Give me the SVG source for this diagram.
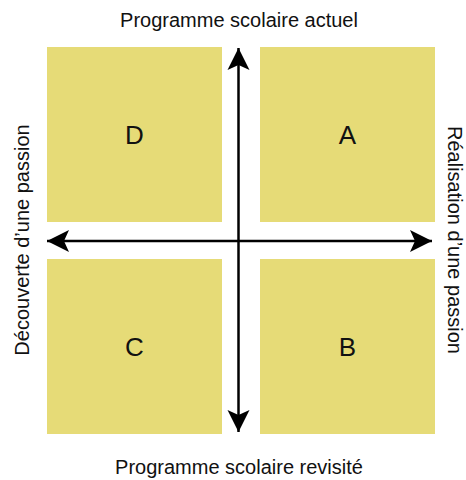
<svg xmlns="http://www.w3.org/2000/svg" width="466" height="480" viewBox="0 0 466 480">
<style>
.q{fill:#E6DB77}
.t{font-family:"Liberation Sans",Arial,sans-serif;font-size:20px;fill:#111;text-anchor:middle}
.l{font-family:"Liberation Sans",Arial,sans-serif;font-size:26px;fill:#111;text-anchor:middle}
.ax{stroke:#000;stroke-width:2.5;fill:none}
</style>
<defs>
<marker id="ah" viewBox="0 0 24 24" refX="22" refY="12" markerWidth="24" markerHeight="24" markerUnits="userSpaceOnUse" orient="auto-start-reverse">
<path d="M22,12 L0,1 L5,12 L0,23 Z" fill="#000"/>
</marker>
</defs>
<rect width="466" height="480" fill="#fff"/>
<g id="D"><rect class="q" x="47" y="47" width="175" height="175"/><text class="l" x="134.5" y="144">D</text></g>
<g id="A"><rect class="q" x="260" y="47" width="175" height="175"/><text class="l" x="347.5" y="144">A</text></g>
<g id="C"><rect class="q" x="47" y="259" width="175" height="175"/><text class="l" x="134.5" y="356">C</text></g>
<g id="B"><rect class="q" x="260" y="259" width="175" height="175"/><text class="l" x="347.5" y="356">B</text></g>
<g id="connectors">
<line class="ax" x1="238.5" y1="432" x2="238.5" y2="48" marker-start="url(#ah)" marker-end="url(#ah)"/>
<line class="ax" x1="47" y1="241" x2="432" y2="241" marker-start="url(#ah)" marker-end="url(#ah)"/>
</g>
<g id="labels">
<text class="t" x="239" y="27">Programme scolaire actuel</text>
<text class="t" x="239" y="474">Programme scolaire revisité</text>
<text class="t" transform="translate(29,240) rotate(-90)">Découverte d’une passion</text>
<text class="t" transform="translate(448,240) rotate(90)">Réalisation d’une passion</text>
</g>
</svg>
